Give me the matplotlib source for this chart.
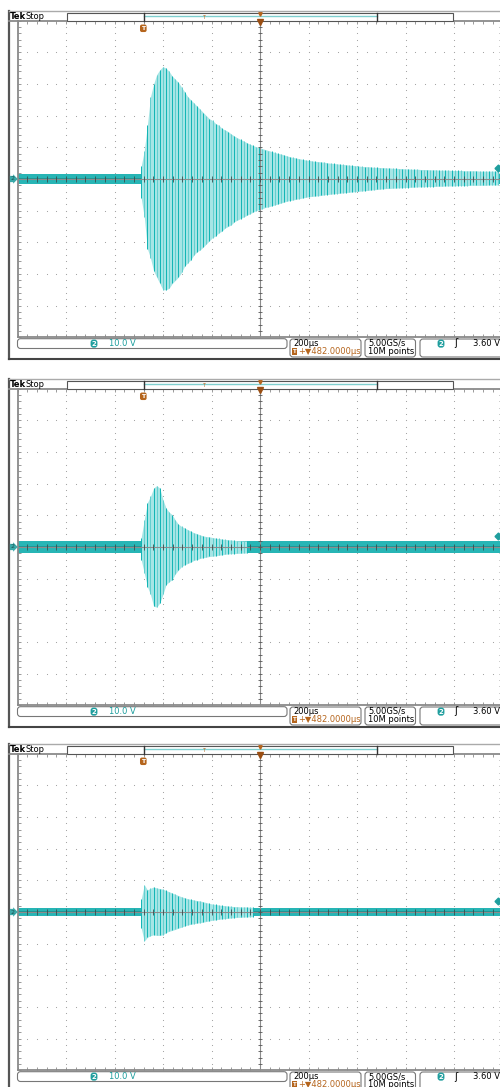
import numpy as np
import matplotlib.pyplot as plt
from matplotlib.patches import FancyBboxPatch, Rectangle

# canvas in pixels
W, H = 500, 1087
PANEL_Y = [0, 368, 733]          # top offset of each scope screenshot

# trace: one spike per period, time in us (200 us/div), amplitude in V (10 V/div)
T0, DT = -490.0, 12.8

top1 = [4, 9, 17, 26, 30, 33, 34.5, 35.5, 35, 34,
        32.5, 31.5, 30.5, 29, 27.5, 26, 25, 24, 23, 22,
        21, 20, 19, 18.5, 17.5, 17, 16, 15.5, 15, 14.2,
        13.6, 13, 12.5, 12, 11.5, 11, 10.6, 10.2, 10, 9.6,
        9.3, 9, 8.7, 8.4, 8.1, 7.9, 7.6, 7.3, 7, 6.8,
        6.6, 6.4, 6.2, 6, 5.9, 5.7, 5.6, 5.5, 5.4, 5.3,
        5.1, 5, 4.9, 4.8, 4.7, 4.6, 4.5, 4.4, 4.3, 4.2,
        4.1, 4, 3.9, 3.9, 3.8, 3.7, 3.7, 3.6, 3.6, 3.5,
        3.5, 3.4, 3.4, 3.3, 3.3, 3.2, 3.2, 3.1, 3.1, 3.1,
        3.0, 3.0, 3.0, 2.9, 2.9, 2.9, 2.8, 2.8, 2.8, 2.8,
        2.7, 2.7, 2.7, 2.7, 2.6, 2.6, 2.6, 2.6, 2.6, 2.5,
        2.5, 2.5, 2.5, 2.5, 2.5, 2.5]
bot1 = [-6, -12, -22, -25, -29, -31, -33, -35, -35, -34.5,
        -33, -32, -31, -29.5, -27.5, -26.5, -25.5, -24, -23, -22.4,
        -21.5, -20.5, -19.5, -18.5, -18, -17, -16.5, -15.5, -15, -14.5,
        -13.5, -13, -12.5, -12, -11.5, -11, -10.5, -10, -9.7, -9.4,
        -9, -8.8, -8.5, -8.2, -7.9, -7.6, -7.3, -7, -6.8, -6.6,
        -6.4, -6.2, -6, -5.8, -5.6, -5.5, -5.4, -5.3, -5.2, -5,
        -4.9, -4.8, -4.7, -4.6, -4.5, -4.4, -4.3, -4.2, -4.1, -4,
        -3.9, -3.8, -3.7, -3.6, -3.5, -3.4, -3.3, -3.2, -3.1, -3.0,
        -3.0, -2.9, -2.9, -2.8, -2.8, -2.7, -2.7, -2.6, -2.6, -2.5,
        -2.5, -2.5, -2.4, -2.4, -2.4, -2.3, -2.3, -2.3, -2.2, -2.2,
        -2.2, -2.2, -2.1, -2.1, -2.1, -2.1, -2.0, -2.0, -2.0, -2.0,
        -2.0, -2.0, -1.9, -1.9, -1.9, -1.9]

top2 = [3, 8.6, 14, 16, 18.6, 19.4, 18.6, 15, 12.3, 11,
        10.2, 8.5, 7.2, 6.5, 6, 5.5, 5, 4.5, 4.2, 3.8,
        3.5, 3.3, 3.2, 3, 2.8, 2.7, 2.5, 2.4, 2.3, 2.2,
        2.1, 2.0, 2.0, 1.9, 1.9]
bot2 = [-4, -8.2, -12.5, -15, -18.7, -19, -17.7, -15, -11.9, -11,
        -10.3, -8.5, -7.3, -6.2, -5.6, -5.2, -4.8, -4.2, -4, -3.6,
        -3.4, -3.2, -3, -2.9, -2.8, -2.6, -2.5, -2.3, -2.2, -2.1,
        -2.1, -2.0, -2.0, -1.9, -1.9]

top3 = [4, 8.6, 7, 7.5, 7.9, 7.6, 7.4, 7.2, 6.8, 6.4,
        6, 5.6, 5.2, 4.8, 4.5, 4.2, 4, 3.8, 3.6, 3.5,
        3.2, 3, 2.7, 2.5, 2.4, 2.2, 2.1, 2, 1.9, 1.8,
        1.7, 1.7, 1.6, 1.6, 1.6, 1.5, 1.5]
bot3 = [-5, -9.2, -8, -7.5, -7.2, -7.4, -7.4, -7.2, -6.5, -6.1,
        -5.8, -5.5, -5.1, -4.8, -4.4, -4.1, -3.9, -3.7, -3.5, -3.4,
        -3.2, -3, -2.8, -2.6, -2.5, -2.3, -2.2, -2.1, -2, -1.9,
        -1.8, -1.7, -1.7, -1.6, -1.6, -1.5, -1.5]

band = [1.6, 1.8, 1.4]               # half width of the noise band, V
traces = [(top1, bot1), (top2, bot2), (top3, bot3)]

ch_scale = "10.0 V"
h_scale = "200µs"
delay = "+▼482.0000µs"
rate = "5.00GS/s"
rec_len = "10M points"
trig_level = 3.6

TEAL_D = '#10b4b4'
TEAL_M = '#62cfcf'
TEAL_L = '#a6e5e5'
BAND = '#27b5b5'
ORANGE = '#b5651d'
BADGE = '#1f9e9e'

fig = plt.figure(figsize=(W / 100, H / 100), dpi=100)
fig.patch.set_facecolor('white')

GX0, GW = 17.5, 485.0
GY0, GH = 20.7, 316.6

for k, oy in enumerate(PANEL_Y):
    ax = fig.add_axes([GX0 / W, 1 - (oy + GY0 + GH) / H, GW / W, GH / H])
    ax.set_xlim(-1000, 1000)
    ax.set_ylim(-50, 50)
    ax.set_xticks(np.arange(-1000, 1001, 200))
    ax.set_xticks(np.arange(-1000, 1001, 40), minor=True)
    ax.set_yticks(np.arange(-50, 51, 10))
    ax.set_yticks(np.arange(-50, 51, 2), minor=True)
    ax.tick_params(which='both', direction='in', length=2.0, width=0.6, color='#8a8a8a',
                   top=True, right=True, labelbottom=False, labelleft=False)
    for s in ax.spines.values():
        s.set_color('#8a8a8a')
        s.set_linewidth(1.3)

    # dotted graticule
    for xv in range(-800, 801, 200):
        if xv == 0:
            continue
        yy = np.arange(-48, 49, 2)
        ax.plot(np.full(len(yy), xv), yy, ls='none', marker='s', ms=0.75, mew=0,
                color='#a6a6a6', zorder=1)
    for yv in range(-40, 41, 10):
        if yv == 0:
            continue
        xx = np.arange(-960, 961, 40)
        ax.plot(xx, np.full(len(xx), yv), ls='none', marker='s', ms=0.75, mew=0,
                color='#a6a6a6', zorder=1)

    # waveform
    top, bot = traces[k]
    t = T0 + DT * np.arange(len(top))
    cols = [TEAL_D if i % 2 == 0 else TEAL_M for i in range(len(t))]
    ax.fill_between([-1000, 1000], -band[k], band[k], color=BAND, lw=0, zorder=2)
    ax.axhline(0, color='#1b8e8e', lw=1.2, zorder=2.5)
    ax.fill_between(t, bot, top, color=TEAL_L, lw=0, zorder=3)
    ax.vlines(t, bot, top, colors=cols, lw=0.7, zorder=4)

    # centre cross with ticks
    ax.axhline(0, color='#8c8c8c', lw=0.8, zorder=6)
    ax.axvline(0, color='#8c8c8c', lw=0.8, zorder=6)
    ax.vlines(np.arange(-960, 961, 40), -0.8, 0.8, color='#3c4c4c', lw=0.6, zorder=6)
    ax.hlines(np.arange(-48, 49, 2), -8, 8, color='#555555', lw=0.6, zorder=6)

# overlay for the scope frame and readouts, in pixel units
ax0 = fig.add_axes([0, 0, 1, 1])
ax0.set_xlim(0, W)
ax0.set_ylim(H, 0)
ax0.axis('off')
ax0.set_zorder(10)


def box(x0, y0, x1, y1, r=3.0):
    ax0.add_patch(FancyBboxPatch((x0, y0), x1 - x0, y1 - y0,
                                 boxstyle=f"round,pad=0,rounding_size={r}",
                                 fc='white', ec='#777777', lw=0.8, zorder=3))


fs = 6
for oy in PANEL_Y:
    # outer frame
    ax0.plot([9, 9], [oy + 11, oy + 359], color='#555555', lw=1.6, zorder=2)
    ax0.plot([9, 500], [oy + 11, oy + 11], color='#aaaaaa', lw=1.0, zorder=2)
    ax0.plot([9, 500], [oy + 358.8, oy + 358.8], color='#444444', lw=1.5, zorder=2)
    ax0.plot([9, 18], [oy + 20.7, oy + 20.7], color='#8a8a8a', lw=1.3, zorder=2)

    # header
    ax0.text(9.5, oy + 16.5, "Tek", fontsize=fs, fontweight='bold', va='center', ha='left', zorder=4)
    ax0.text(25, oy + 16.5, "Stop", fontsize=fs, va='center', ha='left', zorder=4)
    ax0.add_patch(Rectangle((67, oy + 13.3), 386, 7.4, fc='white', ec='#555555', lw=0.8, zorder=3))
    ax0.plot([144.3, 376.7], [oy + 16.2, oy + 16.2], color='#7fd0d0', lw=1.0, zorder=4)
    ax0.plot([144.3, 144.3], [oy + 13.3, oy + 20.7], color='#333333', lw=1.0, zorder=4)
    ax0.plot([376.7, 376.7], [oy + 13.3, oy + 20.7], color='#333333', lw=1.0, zorder=4)
    ax0.text(204, oy + 17.2, "T", fontsize=3.5, color=ORANGE, ha='center', va='center', zorder=5)
    ax0.plot(260, oy + 13.8, marker='v', ms=2.5, color=ORANGE, zorder=5)
    ax0.plot(260, oy + 21.8, marker='v', ms=4, color='#9a4e12', zorder=5)
    ax0.text(143.3, oy + 28.3, "T", fontsize=4.5, color='white', fontweight='bold', ha='center', va='center',
             bbox=dict(boxstyle='round,pad=0.2,rounding_size=0.3', fc=ORANGE, ec='none'), zorder=5)

    # channel and trigger level markers
    ax0.text(12.5, oy + 179, "2", fontsize=4.5, color='#1a4f4f', ha='center', va='center',
             bbox=dict(boxstyle='rarrow,pad=0.1', fc='#3aa9a9', ec='none'), zorder=5)
    y_trig = oy + GY0 + GH / 2 - trig_level / 10 * GH / 10
    ax0.plot(498, y_trig, marker='D', ms=3.5, color=BADGE, zorder=5)

    # readout boxes
    box(17.5, oy + 338.7, 287, oy + 348.5)
    box(290, oy + 339, 361, oy + 357)
    box(365, oy + 339, 415.5, oy + 357)
    box(420, oy + 339, 510, oy + 357)

    ax0.text(94, oy + 343.6, "2", fontsize=5, color='white', ha='center', va='center', fontweight='bold',
             bbox=dict(boxstyle='round,pad=0.15,rounding_size=0.4', fc=BADGE, ec='none'), zorder=5)
    ax0.text(109, oy + 343.6, ch_scale, fontsize=fs, color='#1a9c9c', ha='left', va='center', zorder=5)

    ax0.text(293, oy + 343.5, h_scale, fontsize=fs, ha='left', va='center', zorder=5)
    ax0.text(294.8, oy + 351.5, "T", fontsize=4, color='white', fontweight='bold', ha='center', va='center',
             bbox=dict(boxstyle='square,pad=0.12', fc=ORANGE, ec='none'), zorder=5)
    ax0.text(297.8, oy + 351.5, delay, fontsize=fs, color=ORANGE, ha='left', va='center', zorder=5)

    ax0.text(368, oy + 343.5, rate, fontsize=fs, ha='left', va='center', zorder=5)
    ax0.text(368, oy + 351.5, rec_len, fontsize=fs, ha='left', va='center', zorder=5)

    ax0.text(441, oy + 343.6, "2", fontsize=5, color='white', ha='center', va='center', fontweight='bold',
             bbox=dict(boxstyle='round,pad=0.15,rounding_size=0.4', fc=BADGE, ec='none'), zorder=5)
    ax0.text(456, oy + 343.5, "ʃ", fontsize=fs + 1, ha='center', va='center', zorder=5)
    ax0.text(500, oy + 343.5, f"{trig_level:.2f} V", fontsize=fs, ha='right', va='center', zorder=5)

fig.savefig("out.png", dpi=100)
